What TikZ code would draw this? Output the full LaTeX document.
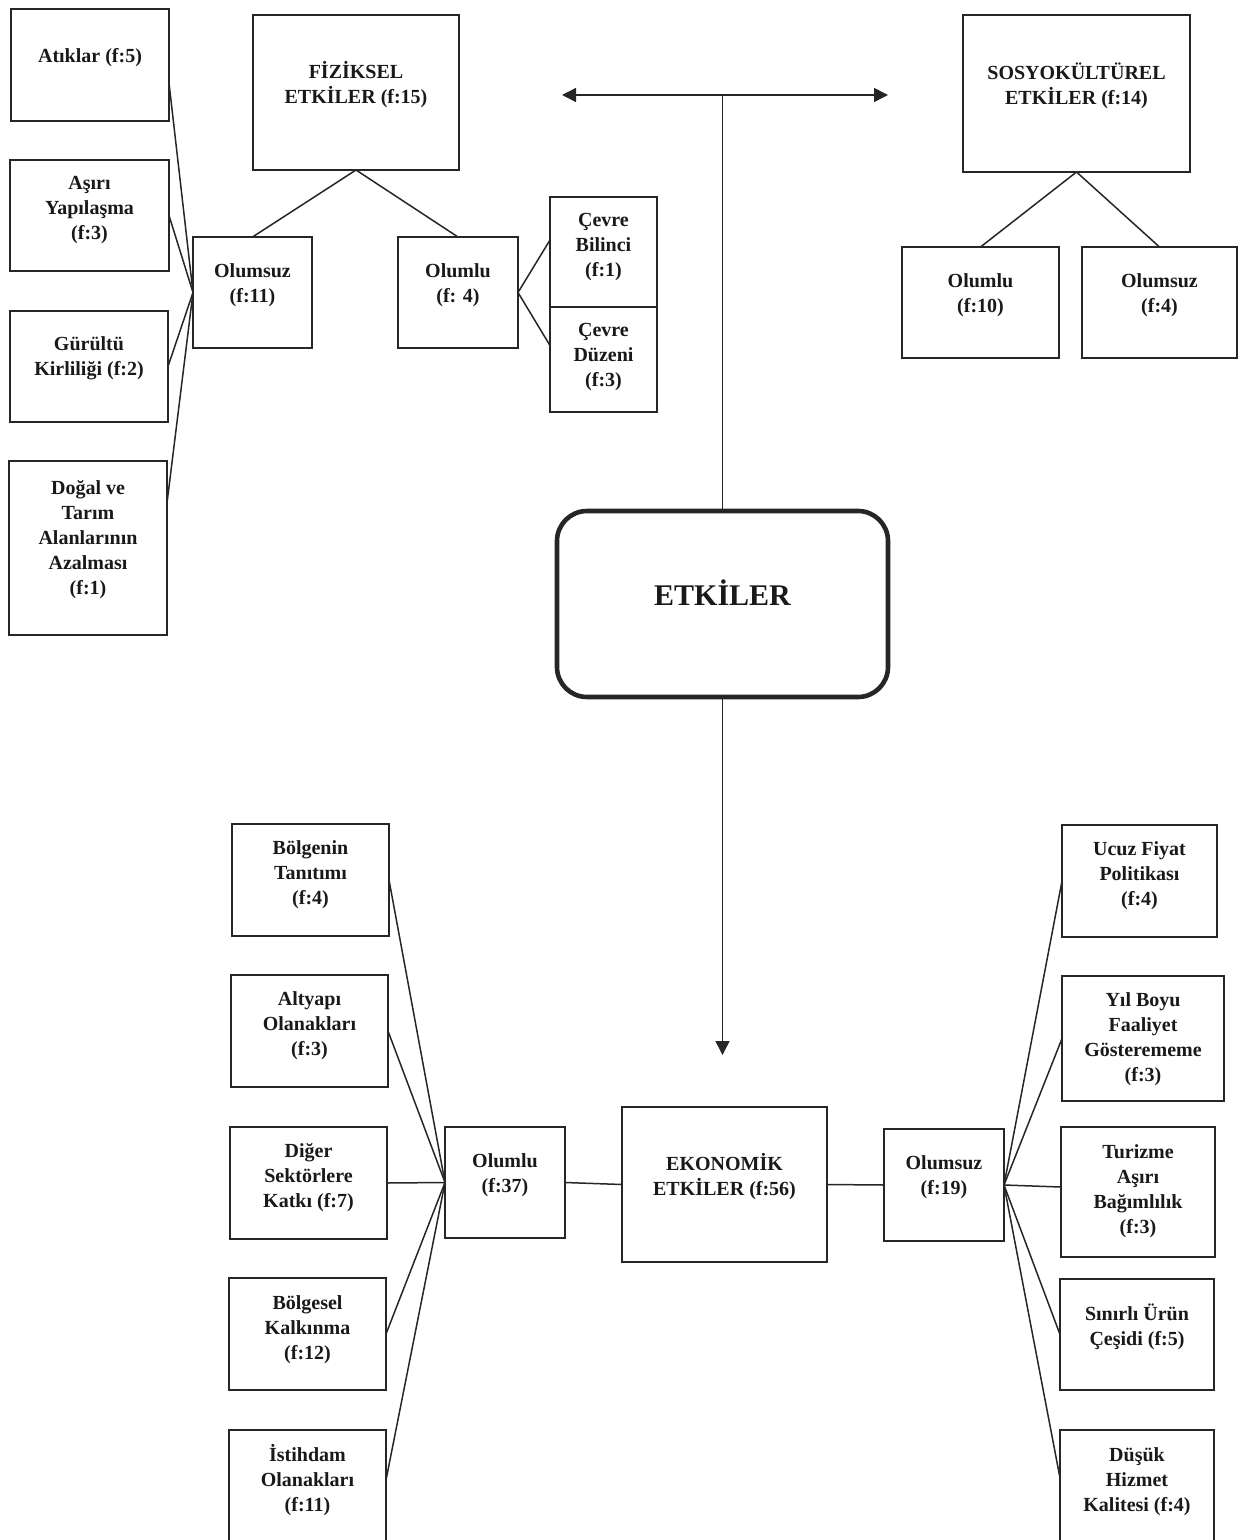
\documentclass[tikz,border=0pt]{standalone}
\usepackage{fontspec}
\setmainfont{Liberation Serif}
\usetikzlibrary{arrows.meta}
\newcommand\mkbox[7]{%
  \node[box, minimum width={0.5*(#4-#2)}, minimum height={0.5*(#5-#3)}] (#1) at ({(#2+#4)/2},{(#3+#5)/2}) {};
  \node[txt] (#1t) at ({(#2+#4)/2},{#6+2.5}) {#7};}
\begin{document}
\begin{tikzpicture}[x=0.5pt,y=-0.5pt,
  box/.style={draw=black!85, line width=1pt, inner sep=0pt, outer sep=0pt, rectangle},
  txt/.style={align=center, inner sep=0pt, text=black!90, font=\fontsize{10}{12.5}\selectfont\bfseries},
  conn/.style={line width=0.75pt, draw=black!85},
  arr/.style={conn, -{Triangle[length=7pt,width=7pt]}}]
\useasboundingbox (0,0) rectangle (1238,1540);

% ---- physical effects
\mkbox{atik}{11}{9}{169}{121}{55}{Atıklar (f:5)}
\mkbox{asiri}{10}{160}{169}{271}{208}{Aşırı\\Yapılaşma\\(f:3)}
\mkbox{gurultu}{10}{311}{168}{422}{355.5}{Gürültü\\Kirliliği (f:2)}
\mkbox{dogal}{9}{461}{167}{635}{537.5}{Doğal ve\\Tarım\\Alanlarının\\Azalması\\(f:1)}
\mkbox{fiz}{253}{15}{459}{170}{82.5}{FİZİKSEL\\ETKİLER (f:15)}
\mkbox{olmA}{193}{237}{312}{348}{282.5}{Olumsuz\\(f:11)}
\mkbox{oluA}{398}{237}{518}{348}{282.5}{Olumlu\\(f: 4)}
\mkbox{cb}{550}{197}{657}{307}{245}{Çevre\\Bilinci\\(f:1)}
\mkbox{cd}{550}{307}{657}{412}{355}{Çevre\\Düzeni\\(f:3)}

% ---- sociocultural
\mkbox{sos}{963}{15}{1190}{172}{83.5}{SOSYOKÜLTÜREL\\ETKİLER (f:14)}
\mkbox{oluB}{902}{247}{1059}{358}{292.5}{Olumlu\\(f:10)}
\mkbox{olmB}{1082}{247}{1237}{358}{292.5}{Olumsuz\\(f:4)}

% ---- centre
\node[draw=black!85, line width=2.3pt, rounded corners=15pt, inner sep=0pt, outer sep=0pt,
      minimum width=165.5pt, minimum height=93pt] (etk) at (722.5,604) {};
\node[txt, font=\fontsize{15}{18}\selectfont\bfseries] (etkt) at (722.5,593) {ETKİLER};

% ---- economic
\mkbox{bt}{232}{824}{389}{936}{872}{Bölgenin\\Tanıtımı\\(f:4)}
\mkbox{alt}{231}{975}{388}{1087}{1023}{Altyapı\\Olanakları\\(f:3)}
\mkbox{dig}{230}{1127}{387}{1239}{1175}{Diğer\\Sektörlere\\Katkı (f:7)}
\mkbox{bk}{229}{1278}{386}{1390}{1327}{Bölgesel\\Kalkınma\\(f:12)}
\mkbox{ist}{229}{1430}{386}{1560}{1478}{İstihdam\\Olanakları\\(f:11)}
\mkbox{oluC}{445}{1127}{565}{1238}{1172.5}{Olumlu\\(f:37)}
\mkbox{eko}{622}{1107}{827}{1262}{1174.5}{EKONOMİK\\ETKİLER (f:56)}
\mkbox{olmC}{884}{1129}{1004}{1241}{1174.5}{Olumsuz\\(f:19)}
\mkbox{ucuz}{1062}{825}{1217}{937}{873}{Ucuz Fiyat\\Politikası\\(f:4)}
\mkbox{yil}{1062}{976}{1224}{1101}{1037}{Yıl Boyu\\Faaliyet\\Gösterememe\\(f:3)}
\mkbox{tur}{1061}{1127}{1215}{1257}{1188.5}{Turizme\\Aşırı\\Bağımlılık\\(f:3)}
\mkbox{sin}{1060}{1279}{1214}{1390}{1324.5}{Sınırlı Ürün\\Çeşidi (f:5)}
\mkbox{dus}{1060}{1430}{1214}{1560}{1479}{Düşük\\Hizmet\\Kalitesi (f:4)}

% ---- connectors: physical
\draw[conn] (fiz.south) -- (olmA.north);
\draw[conn] (fiz.south) -- (oluA.north);
\draw[conn] ([yshift=-9pt]atik.east) -- (olmA.west);
\draw[conn] (asiri.east) -- (olmA.west);
\draw[conn] (gurultu.east) -- (olmA.west);
\draw[conn] ([yshift=22.5pt]dogal.east) -- (olmA.west);
\draw[conn] (oluA.east) -- ([yshift=6pt]cb.west);
\draw[conn] (oluA.east) -- ([yshift=7pt]cd.west);

% ---- connectors: sociocultural
\draw[conn] (sos.south) -- (oluB.north);
\draw[conn] (sos.south) -- (olmB.north);

% ---- central arrows
\coordinate (J) at (722.5,95);
\coordinate (L) at (562,95);
\coordinate (R) at (888,95);
\coordinate (D) at (722.5,1055);
\draw[conn] (etk.north) -- (J);
\draw[arr] (J) -- (L);
\draw[arr] (J) -- (R);
\draw[arr] (etk.south) -- (D);

% ---- connectors: economic
\draw[conn] (bt.east) -- (oluC.west);
\draw[conn] (alt.east) -- (oluC.west);
\draw[conn] (dig.east) -- (oluC.west);
\draw[conn] (bk.east) -- (oluC.west);
\draw[conn] ([yshift=7.5pt]ist.east) -- (oluC.west);
\draw[conn] (oluC.east) -- (eko.west);
\draw[conn] (eko.east) -- (olmC.west);
\draw[conn] (olmC.east) -- (ucuz.west);
\draw[conn] (olmC.east) -- (yil.west);
\draw[conn] (olmC.east) -- ([yshift=2.5pt]tur.west);
\draw[conn] (olmC.east) -- (sin.west);
\draw[conn] (olmC.east) -- ([yshift=8.5pt]dus.west);
\end{tikzpicture}
\end{document}
